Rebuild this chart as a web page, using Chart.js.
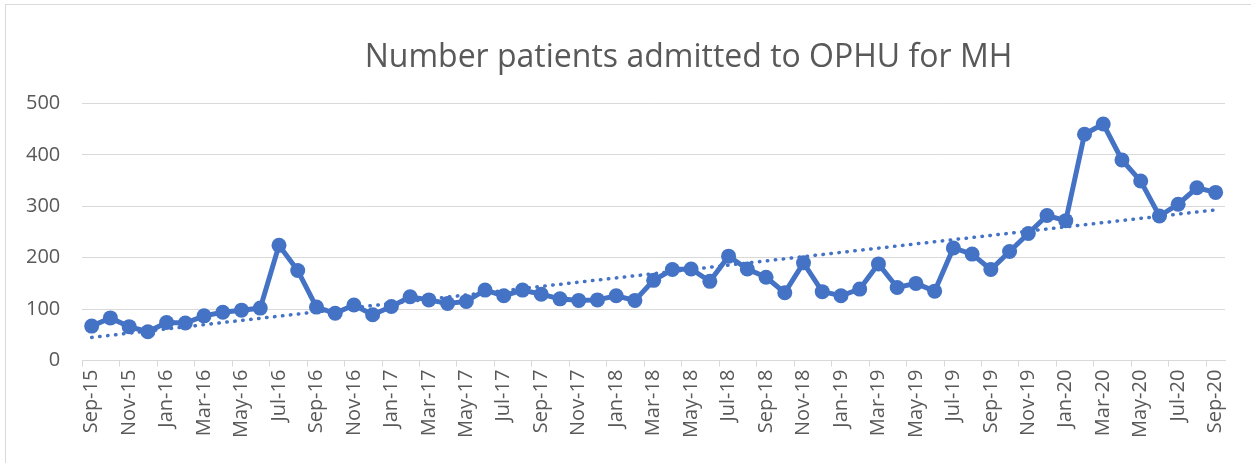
<!DOCTYPE html>
<html>
<head>
<meta charset="utf-8">
<script src="https://cdn.jsdelivr.net/npm/chart.js@4/dist/chart.umd.min.js"></script>
<style>
  html, body { margin: 0; padding: 0; background: #fff; }
  #wrap { position: relative; width: 1251px; height: 463px; }
  #frame { position: absolute; left: 5px; top: 4px; right: 0; bottom: 0;
           border-top: 1px solid #d9d9d9; border-left: 1px solid #d9d9d9; }
  canvas { position: absolute; left: 0; top: 0; }
</style>
</head>
<body>
<div id="wrap">
  <div id="frame"></div>
  <canvas id="chart" width="1251" height="463"></canvas>
</div>
<script>
var months = [
  "Sep-15","Oct-15","Nov-15","Dec-15","Jan-16","Feb-16","Mar-16","Apr-16","May-16","Jun-16",
  "Jul-16","Aug-16","Sep-16","Oct-16","Nov-16","Dec-16","Jan-17","Feb-17","Mar-17","Apr-17",
  "May-17","Jun-17","Jul-17","Aug-17","Sep-17","Oct-17","Nov-17","Dec-17","Jan-18","Feb-18",
  "Mar-18","Apr-18","May-18","Jun-18","Jul-18","Aug-18","Sep-18","Oct-18","Nov-18","Dec-18",
  "Jan-19","Feb-19","Mar-19","Apr-19","May-19","Jun-19","Jul-19","Aug-19","Sep-19","Oct-19",
  "Nov-19","Dec-19","Jan-20","Feb-20","Mar-20","Apr-20","May-20","Jun-20","Jul-20","Aug-20",
  "Sep-20"
];

var admitted = [
  67, 83, 66, 56, 74, 73, 87, 94, 98, 102,
  224, 175, 104, 92, 108, 89, 105, 124, 118, 111,
  115, 137, 126, 137, 129, 120, 117, 118, 126, 117,
  156, 177, 178, 154, 203, 178, 162, 132, 190, 134,
  126, 139, 188, 142, 150, 135, 219, 207, 177, 212,
  247, 282, 272, 440, 460, 390, 349, 281, 304, 336,
  327
];

// linear trendline ends
var trendMonths = ["Sep-15", "Sep-20"];
var trendValues = [45, 293];

var yTicks = [0, 100, 200, 300, 400, 500];

var textColor = "#595959";
var gridColor = "#d9d9d9";
var blue = "#4472C4";
var fontFamily = "'Open Sans', 'Liberation Sans', sans-serif";

var trendData = trendMonths.map(function (m, i) { return { x: m, y: trendValues[i] }; });

// Excel puts the title a bit right of the canvas centre
var titleNudge = {
  id: "titleNudge",
  afterLayout: function (chart) {
    var t = chart.titleBlock;
    if (t) { t.left += 74; t.right += 74; }
  }
};

var ctx = document.getElementById("chart");

var myChart = new Chart(ctx, {
  type: "line",
  data: {
    labels: months,
    datasets: [{
      label: "Number patients admitted",
      data: admitted,
      borderColor: blue,
      backgroundColor: blue,
      borderWidth: 5,
      pointRadius: 7.5,
      pointBackgroundColor: blue,
      pointBorderWidth: 0,
      tension: 0
    }, {
      label: "Linear trend",
      data: trendData,
      borderColor: blue,
      borderWidth: 3.5,
      borderDash: [0.5, 7.5],
      borderCapStyle: "round",
      pointRadius: 0,
      tension: 0
    }]
  },
  options: {
    responsive: false,
    animation: false,
    layout: { padding: { left: 4, right: 26, top: 0, bottom: 22 } },
    plugins: {
      legend: { display: false },
      tooltip: { enabled: false },
      title: {
        display: true,
        text: "Number patients admitted to OPHU for MH",
        color: textColor,
        font: { family: fontFamily, size: 32, weight: "normal" },
        padding: { top: 39, bottom: 26 }
      }
    },
    scales: {
      x: {
        type: "category",
        offset: true,
        grid: {
          offset: true,
          drawOnChartArea: false,
          tickLength: 6,
          color: function (c) { return c.index % 2 === 0 ? gridColor : "rgba(0,0,0,0)"; }
        },
        border: { color: gridColor, width: 1 },
        ticks: {
          autoSkip: false,
          maxRotation: 90,
          minRotation: 90,
          padding: 3,
          color: textColor,
          font: { family: fontFamily, size: 20 },
          callback: function (v, i) { return i % 2 === 0 ? months[i] : ""; }
        }
      },
      y: {
        min: 0,
        max: 500,
        afterBuildTicks: function (axis) {
          axis.ticks = yTicks.map(function (v) { return { value: v }; });
        },
        grid: { color: gridColor, drawTicks: false },
        border: { display: false },
        ticks: {
          padding: 22,
          color: textColor,
          font: { family: fontFamily, size: 20 }
        }
      }
    }
  },
  plugins: [titleNudge]
});
</script>
</body>
</html>
